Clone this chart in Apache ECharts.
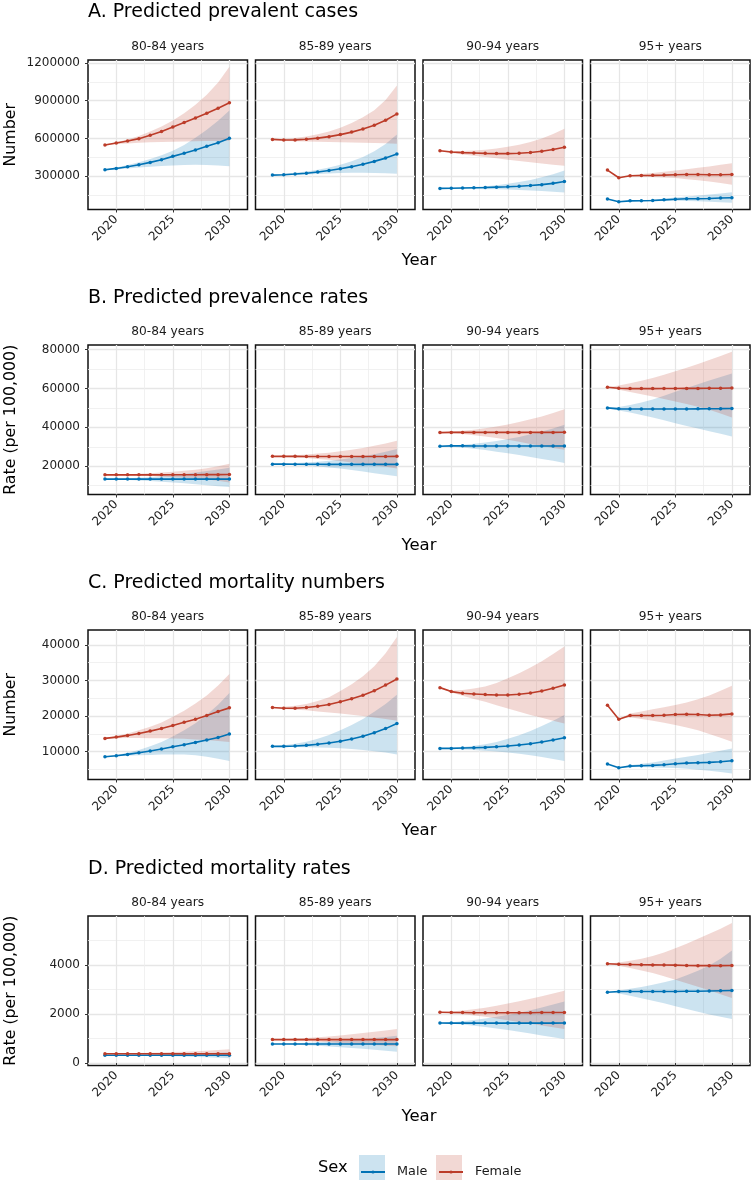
<!DOCTYPE html>
<html><head><meta charset="utf-8">
<script src="https://cdn.jsdelivr.net/npm/echarts@6/dist/echarts.min.js"></script>
<style>html,body{margin:0;padding:0;background:#fff}#c{width:751px;height:1181px}</style>
</head><body><div id="c"></div>
<script>
// ---------- data ----------
const years = [2019,2020,2021,2022,2023,2024,2025,2026,2027,2028,2029,2030];
const ageGroups = ['80-84 years','85-89 years','90-94 years','95+ years'];
const panelTitles = ['A. Predicted prevalent cases','B. Predicted prevalence rates','C. Predicted mortality numbers','D. Predicted mortality rates'];
const yTitles = ['Number','Rate (per 100,000)','Number','Rate (per 100,000)'];
const xTitle = 'Year';
const legendTitle = 'Sex';
const sexes = ['Male','Female'];
const xTicks = [2020,2025,2030];
const xMinorTicks = [2022.5,2027.5];
const yTicksA = [300000,600000,900000,1200000];
const yMinorA = [150000,450000,750000,1050000];
const yTicksB = [20000,40000,60000,80000];
const yMinorB = [10000,30000,50000,70000];
const yTicksC = [10000,20000,30000,40000];
const yMinorC = [5000,15000,25000,35000];
const yTicksD = [0,2000,4000];
const yMinorD = [1000,3000,5000];
const xLimits = [2017.5, 2031.6];
const yLimitsA = [34000, 1224000];
const yLimitsB = [5500, 82300];
const yLimitsC = [2200, 44150];
const yLimitsD = [-100, 5985];

// A. prevalent cases
const A80_male    = [350600,361000,374600,390500,409000,430500,457000,481000,507700,537000,566000,601000];
const A80_maleLo  = [345000,352000,360000,368000,375000,381000,385000,388000,390000,389000,385000,378000];
const A80_maleHi  = [355000,368000,388000,410000,436000,466000,502000,548000,605000,668000,740000,822000];
const A80_female  = [547600,563600,579600,598000,625000,654000,691000,726000,763000,800600,840600,883000];
const A80_femaleLo= [543000,555000,560000,565000,569000,572000,574000,576000,578000,579000,580000,581000];
const A80_femaleHi= [553000,570000,592000,620000,654000,695000,742000,800000,868000,947000,1045000,1170000];
const A85_male    = [308000,311000,316000,323000,332000,344000,358000,375000,394000,417000,443000,475000];
const A85_maleLo  = [305000,306000,309000,313000,317000,321000,324000,326000,327000,325000,322000,318000];
const A85_maleHi  = [312000,318000,326000,337000,351000,368000,390000,418000,452000,497000,555000,630000];
const A85_female  = [592000,587000,588000,593000,602000,614000,630000,650000,675000,705000,745000,795000];
const A85_femaleLo= [587000,580000,577000,575000,573000,571000,569000,567000,565000,563000,561000,558000];
const A85_femaleHi= [597000,597000,603000,615000,632000,655000,685000,722000,768000,825000,905000,1022000];
const A90_male    = [202000,203000,205000,207000,209000,212000,215000,219000,225000,232000,242000,257000];
const A90_maleLo  = [201000,200000,199000,198000,196000,195000,193000,190000,186000,182000,176000,170000];
const A90_maleHi  = [203000,206000,209000,213000,219000,228000,239000,252000,268000,290000,315000,345000];
const A90_female  = [502000,492000,487000,484000,481000,479000,479000,482000,488000,498000,511000,530000];
const A90_femaleLo= [499000,484000,472000,462000,452000,441000,430000,420000,410000,400000,391000,382000];
const A90_femaleHi= [505000,500000,500000,503000,510000,520000,533000,550000,572000,600000,635000,677000];
const A95_male    = [117000,96000,103000,104000,106000,111000,116000,119000,120000,122000,125000,127000];
const A95_maleLo  = [null,96000,101000,100000,100000,102000,104000,102000,99000,96000,92000,87000];
const A95_maleHi  = [null,96000,105000,108000,113000,120000,130000,137000,145000,153000,162000,172000];
const A95_female  = [348000,287000,303000,305000,306000,308000,311000,313000,312000,311000,311000,313000];
const A95_femaleLo= [null,287000,300000,297000,293000,289000,284000,275000,266000,256000,244000,231000];
const A95_femaleHi= [null,287000,307000,316000,325000,335000,345000,355000,366000,377000,390000,403000];

// B. prevalence rates
const B80_male    = [13400,13400,13400,13400,13400,13400,13400,13400,13400,13400,13400,13400];
const B80_maleLo  = [13300,13200,13000,12750,12450,12100,11700,11250,10750,10200,9700,9300];
const B80_maleHi  = [13500,13600,13800,14050,14400,14850,15400,16050,16800,17600,18400,19200];
const B80_female  = [15600,15600,15600,15600,15600,15600,15650,15650,15650,15700,15700,15750];
const B80_femaleLo= [15500,15400,15300,15150,14950,14700,14400,14050,13650,13150,12500,11700];
const B80_femaleHi= [15700,15800,15950,16150,16400,16750,17150,17650,18250,19000,20000,21300];
const B85_male    = [21100,21100,21050,21050,21050,21000,21000,21000,21000,21000,21000,21000];
const B85_maleLo  = [21000,20800,20550,20250,19850,19350,18800,18100,17300,16400,15600,14900];
const B85_maleHi  = [21200,21400,21650,21950,22350,22850,23450,24200,25100,26200,27500,28900];
const B85_female  = [25100,25100,25100,25050,25050,25050,25050,25050,25050,25050,25050,25100];
const B85_femaleLo= [25000,24800,24500,24200,23800,23300,22700,22000,21300,20500,19700,18800];
const B85_femaleHi= [25200,25400,25700,26000,26500,27000,27700,28500,29400,30500,31700,33100];
const B90_male    = [30300,30500,30500,30450,30450,30400,30400,30400,30400,30400,30400,30400];
const B90_maleLo  = [30200,30000,29600,29000,28300,27500,26700,25800,24800,23800,22800,21700];
const B90_maleHi  = [30400,30700,31100,31600,32200,33000,34000,35100,36400,37800,39400,41300];
const B90_female  = [37300,37400,37400,37400,37400,37400,37400,37400,37400,37400,37400,37450];
const B90_femaleLo= [37200,37000,36600,36000,35300,34500,33600,32600,31500,30400,29400,28500];
const B90_femaleHi= [37400,37800,38200,38800,39500,40400,41500,42700,44100,45600,47400,49300];
const B95_male    = [50000,49500,49400,49400,49400,49400,49450,49450,49500,49550,49600,49700];
const B95_maleLo  = [50000,48700,47600,46400,45000,43600,42100,40700,39400,38000,36700,35300];
const B95_maleHi  = [50000,50400,51500,52800,54300,56200,58300,60200,62100,64000,65900,67700];
const B95_female  = [60600,60100,59900,59900,59900,59950,59950,60000,60000,60050,60100,60200];
const B95_femaleLo= [60600,59300,58200,57000,55800,54600,53300,52000,50600,49100,47100,45100];
const B95_femaleHi= [60600,61500,62600,63900,65400,67000,68800,70600,72600,74600,76700,78800];

// C. mortality numbers
const C80_male    = [8600,8880,9250,9720,10190,10750,11400,11960,12610,13260,14000,14940];
const C80_maleLo  = [8550,8700,8850,9000,9100,9200,9250,9200,9000,8600,8050,7400];
const C80_maleHi  = [8650,9100,9700,10500,11500,12700,14300,16000,18000,20400,23200,26500];
const C80_female  = [13730,14100,14570,15120,15780,16520,17360,18290,19130,20160,21270,22300];
const C80_femaleLo= [13650,13800,13850,13850,13800,13750,13700,13600,13450,13250,13000,12700];
const C80_femaleHi= [13800,14400,15100,16000,17000,18200,19800,21500,23500,25800,28600,31800];
const C85_male    = [11500,11500,11600,11780,12070,12440,12910,13570,14320,15350,16480,17890];
const C85_maleLo  = [11450,11350,11300,11250,11200,11100,10950,10750,10500,10150,9750,9250];
const C85_maleHi  = [11550,11800,12200,12800,13600,14700,16000,17500,19200,21200,23400,26000];
const C85_female  = [22400,22200,22200,22400,22770,23240,23990,24840,25870,27090,28690,30380];
const C85_femaleLo= [22300,22000,21800,21600,21300,21000,20700,20400,20000,19600,19200,18700];
const C85_femaleHi= [22500,22600,22900,23400,24200,25300,27000,28900,31200,34000,37600,42200];
const C90_male    = [10930,10930,11020,11120,11210,11400,11580,11860,12240,12700,13260,13910];
const C90_maleLo  = [10900,10800,10650,10500,10300,10050,9750,9400,9000,8500,7950,7400];
const C90_maleHi  = [10950,11050,11300,11650,12100,12750,13600,14600,15800,17200,18700,20300];
const C90_female  = [27980,26860,26400,26210,26030,25930,25930,26120,26490,27050,27800,28730];
const C90_femaleLo= [27950,26600,25700,24800,24000,23000,22100,21200,20300,19500,18700,17900];
const C90_femaleHi= [28000,27200,27300,27700,28300,29300,30600,32000,33600,35400,37400,39500];
const C95_male    = [6530,5490,5960,6050,6150,6340,6620,6800,6900,7000,7200,7460];
const C95_maleLo  = [null,5490,5800,5700,5600,5500,5400,5200,4950,4650,4300,3900];
const C95_maleHi  = [null,5490,6200,6600,7000,7500,8100,8600,9100,9700,10300,10900];
const C95_female  = [23050,19110,20140,20140,20140,20240,20420,20520,20420,20240,20330,20610];
const C95_femaleLo= [null,19110,19700,19200,18700,18100,17500,16800,16000,15000,13900,12800];
const C95_femaleHi= [null,19110,20700,21300,21900,22500,23100,23800,24700,25800,27100,28500];

// D. mortality rates
const D80_male    = [315,315,315,315,315,315,315,315,315,315,315,315];
const D80_maleLo  = [312,308,303,297,290,282,272,262,250,236,218,195];
const D80_maleHi  = [318,322,328,334,341,349,358,368,381,396,416,440];
const D80_female  = [380,380,380,380,380,380,380,380,380,380,380,380];
const D80_femaleLo= [376,372,366,358,350,340,330,320,310,298,285,270];
const D80_femaleHi= [384,390,398,408,419,432,446,462,481,505,533,565];
const D85_male    = [775,775,775,775,775,775,775,775,775,775,775,775];
const D85_maleLo  = [770,760,745,725,700,675,645,612,578,540,500,460];
const D85_maleHi  = [780,790,805,825,850,875,905,940,980,1020,1065,1110];
const D85_female  = [955,955,955,955,955,955,955,955,955,955,955,955];
const D85_femaleLo= [950,935,915,895,870,845,815,790,760,735,705,680];
const D85_femaleHi= [960,975,995,1020,1050,1085,1125,1170,1220,1270,1325,1385];
const D90_male    = [1630,1625,1625,1625,1625,1625,1625,1625,1625,1625,1625,1630];
const D90_maleLo  = [1625,1600,1565,1520,1470,1410,1340,1270,1200,1120,1050,975];
const D90_maleHi  = [1635,1660,1700,1750,1810,1880,1960,2050,2150,2260,2380,2510];
const D90_female  = [2070,2060,2055,2050,2050,2050,2050,2050,2050,2055,2055,2060];
const D90_femaleLo= [2065,2030,1990,1940,1880,1810,1740,1670,1600,1530,1460,1385];
const D90_femaleHi= [2075,2100,2140,2190,2250,2330,2420,2520,2620,2720,2830,2940];
const D95_male    = [2880,2910,2915,2915,2915,2915,2915,2920,2920,2930,2940,2950];
const D95_maleLo  = [2880,2830,2740,2640,2540,2430,2310,2200,2090,1980,1880,1790];
const D95_maleHi  = [2880,2950,3020,3100,3190,3290,3400,3570,3760,3970,4250,4580];
const D95_female  = [4040,4020,4010,4000,3995,3990,3985,3970,3965,3965,3965,3970];
const D95_femaleLo= [4040,3960,3870,3770,3660,3530,3390,3250,3110,2960,2800,2645];
const D95_femaleHi= [4040,4090,4160,4250,4360,4500,4670,4860,5060,5260,5470,5700];

// ---------- layout / style ----------
const FONT = 'DejaVu Sans';
const COLORS = {Male:'#0072B5', Female:'#BC3C29'};
const BAND_RGBA = {Male:'rgba(0,114,181,0.2)', Female:'rgba(188,60,41,0.2)'};
const BAND_FILL = {Male:'#CCE3F0', Female:'#F2D8D4'};
const colLeft = [88, 255.5, 423, 590.5];
const colW = 159.5;
const rowTop = [60, 345, 630, 916];
const rowH = 149.5;

const rows = [
  {ticks:yTicksA, minor:yMinorA, lim:yLimitsA, panels:[
    [A80_male,A80_maleLo,A80_maleHi,A80_female,A80_femaleLo,A80_femaleHi],
    [A85_male,A85_maleLo,A85_maleHi,A85_female,A85_femaleLo,A85_femaleHi],
    [A90_male,A90_maleLo,A90_maleHi,A90_female,A90_femaleLo,A90_femaleHi],
    [A95_male,A95_maleLo,A95_maleHi,A95_female,A95_femaleLo,A95_femaleHi]]},
  {ticks:yTicksB, minor:yMinorB, lim:yLimitsB, panels:[
    [B80_male,B80_maleLo,B80_maleHi,B80_female,B80_femaleLo,B80_femaleHi],
    [B85_male,B85_maleLo,B85_maleHi,B85_female,B85_femaleLo,B85_femaleHi],
    [B90_male,B90_maleLo,B90_maleHi,B90_female,B90_femaleLo,B90_femaleHi],
    [B95_male,B95_maleLo,B95_maleHi,B95_female,B95_femaleLo,B95_femaleHi]]},
  {ticks:yTicksC, minor:yMinorC, lim:yLimitsC, panels:[
    [C80_male,C80_maleLo,C80_maleHi,C80_female,C80_femaleLo,C80_femaleHi],
    [C85_male,C85_maleLo,C85_maleHi,C85_female,C85_femaleLo,C85_femaleHi],
    [C90_male,C90_maleLo,C90_maleHi,C90_female,C90_femaleLo,C90_femaleHi],
    [C95_male,C95_maleLo,C95_maleHi,C95_female,C95_femaleLo,C95_femaleHi]]},
  {ticks:yTicksD, minor:yMinorD, lim:yLimitsD, panels:[
    [D80_male,D80_maleLo,D80_maleHi,D80_female,D80_femaleLo,D80_femaleHi],
    [D85_male,D85_maleLo,D85_maleHi,D85_female,D85_femaleLo,D85_femaleHi],
    [D90_male,D90_maleLo,D90_maleHi,D90_female,D90_femaleLo,D90_femaleHi],
    [D95_male,D95_maleLo,D95_maleHi,D95_female,D95_femaleLo,D95_femaleHi]]}
];

const grid = [], xAxis = [], yAxis = [], series = [], graphic = [];
const majorGrid = {color:'#E6E6E6', width:1.3};
const minorGrid = {color:'#EEEEEE', width:0.8};
const tickStyle = {color:'#333', width:1};
const fmt = v => String(v);

function bandRender(fill) {
  return function (params, api) {
    if (params.dataIndexInside !== 0) return null;
    const n = params.dataInsideLength;
    const up = [], low = [];
    for (let k = 0; k < n; k++) {
      up.push(api.coord([api.value(0, k), api.value(2, k)]));
      low.push(api.coord([api.value(0, k), api.value(1, k)]));
    }
    return {type:'polygon', shape:{points: up.concat(low.reverse())}, style:{fill: fill, stroke:null}};
  };
}

rows.forEach((row, r) => {
  row.panels.forEach((p, c) => {
    const gi = grid.length;
    grid.push({left:colLeft[c], top:rowTop[r], width:colW, height:rowH, show:true,
      borderColor:'#111', borderWidth:1.5, backgroundColor:'transparent', outerBoundsMode:'none'});
    xAxis.push({type:'value', gridIndex:gi, min:xLimits[0], max:xLimits[1], position:'bottom',
      axisLine:{show:false},
      axisTick:{show:true, customValues:xTicks, length:3, lineStyle:tickStyle},
      axisLabel:{customValues:xTicks, formatter:fmt, rotate:45, margin:8, fontFamily:FONT, fontSize:12, color:'#222'},
      splitLine:{show:true, lineStyle:majorGrid}});
    yAxis.push({type:'value', gridIndex:gi, min:row.lim[0], max:row.lim[1], position:'left',
      axisLine:{show:false},
      axisTick:{show:c===0, customValues:row.ticks, length:3, lineStyle:tickStyle},
      axisLabel:{show:c===0, customValues:row.ticks, formatter:fmt, margin:8, fontFamily:FONT, fontSize:12, color:'#222'},
      splitLine:{show:true, lineStyle:majorGrid}});
    const sets = [['Male', p[0], p[1], p[2]], ['Female', p[3], p[4], p[5]]];
    sets.forEach(([sex, line, lo, hi]) => {
      series.push({type:'custom', xAxisIndex:gi, yAxisIndex:gi, silent:true, z:1, animation:false,
        encode:{x:0, y:[1,2]},
        data: years.map((y,i) => [y, lo[i], hi[i]]).filter(d => d[1] != null),
        renderItem: bandRender(BAND_RGBA[sex])});
    });
    sets.forEach(([sex, line]) => {
      series.push({type:'line', name:sex, xAxisIndex:gi, yAxisIndex:gi, symbol:'circle', symbolSize:3.5,
        showSymbol:true, showAllSymbol:true, lineStyle:{color:COLORS[sex], width:1.6}, itemStyle:{color:COLORS[sex]},
        z:3, animation:false, data: years.map((y,i) => [y, line[i]])});
    });
    graphic.push({type:'text', x:colLeft[c] + colW/2, y:rowTop[r] - 13.5,
      style:{text:ageGroups[c], font:'12.2px "' + FONT + '"', fill:'#1a1a1a', align:'center', verticalAlign:'middle'}});
  });
});
// hidden axes that carry the minor grid lines
rows.forEach((row, r) => {
  row.panels.forEach((p, c) => {
    const gi = r*4 + c;
    xAxis.push({type:'value', gridIndex:gi, min:xLimits[0], max:xLimits[1], position:'top',
      axisLine:{show:false}, axisTick:{show:false, customValues:xMinorTicks}, axisLabel:{show:false},
      splitLine:{show:true, lineStyle:minorGrid}});
    yAxis.push({type:'value', gridIndex:gi, min:row.lim[0], max:row.lim[1], position:'right',
      axisLine:{show:false}, axisTick:{show:false, customValues:row.minor}, axisLabel:{show:false},
      splitLine:{show:true, lineStyle:minorGrid}});
  });
});

const titleY = [12, 298, 583, 868.6];
rowTop.forEach((t, r) => {
  graphic.push({type:'text', x:88, y:titleY[r],
    style:{text:panelTitles[r], font:'19px "' + FONT + '"', fill:'#000', align:'left', verticalAlign:'middle'}});
  graphic.push({type:'text', x:11, y:t + rowH/2, rotation:Math.PI/2,
    style:{text:yTitles[r], font:'15.8px "' + FONT + '"', fill:'#000', align:'center', verticalAlign:'middle'}});
  graphic.push({type:'text', x:419, y:t + rowH + 51.7,
    style:{text:xTitle, font:'16.5px "' + FONT + '"', fill:'#000', align:'center', verticalAlign:'middle'}});
});
graphic.push({type:'text', x:318, y:1167.5,
  style:{text:legendTitle, font:'16.3px "' + FONT + '"', fill:'#000', align:'left', verticalAlign:'middle'}});
graphic.push({type:'rect', shape:{x:359, y:1155, width:26, height:25}, style:{fill:BAND_FILL.Male}, z:0});
graphic.push({type:'rect', shape:{x:436, y:1155, width:26, height:25}, style:{fill:BAND_FILL.Female}, z:0});

const chart = echarts.init(document.getElementById('c'), null, {renderer:'canvas'});
chart.setOption({
  animation:false,
  backgroundColor:'#fff',
  grid, xAxis, yAxis, series, graphic,
  legend:{data:sexes, left:355, top:1160.5, padding:5, itemWidth:24, itemHeight:4, itemGap:10.7, selectedMode:false,
    textStyle:{fontFamily:FONT, fontSize:12.8, color:'#1a1a1a', padding:[0,0,0,7]}}
});
</script></body></html>
